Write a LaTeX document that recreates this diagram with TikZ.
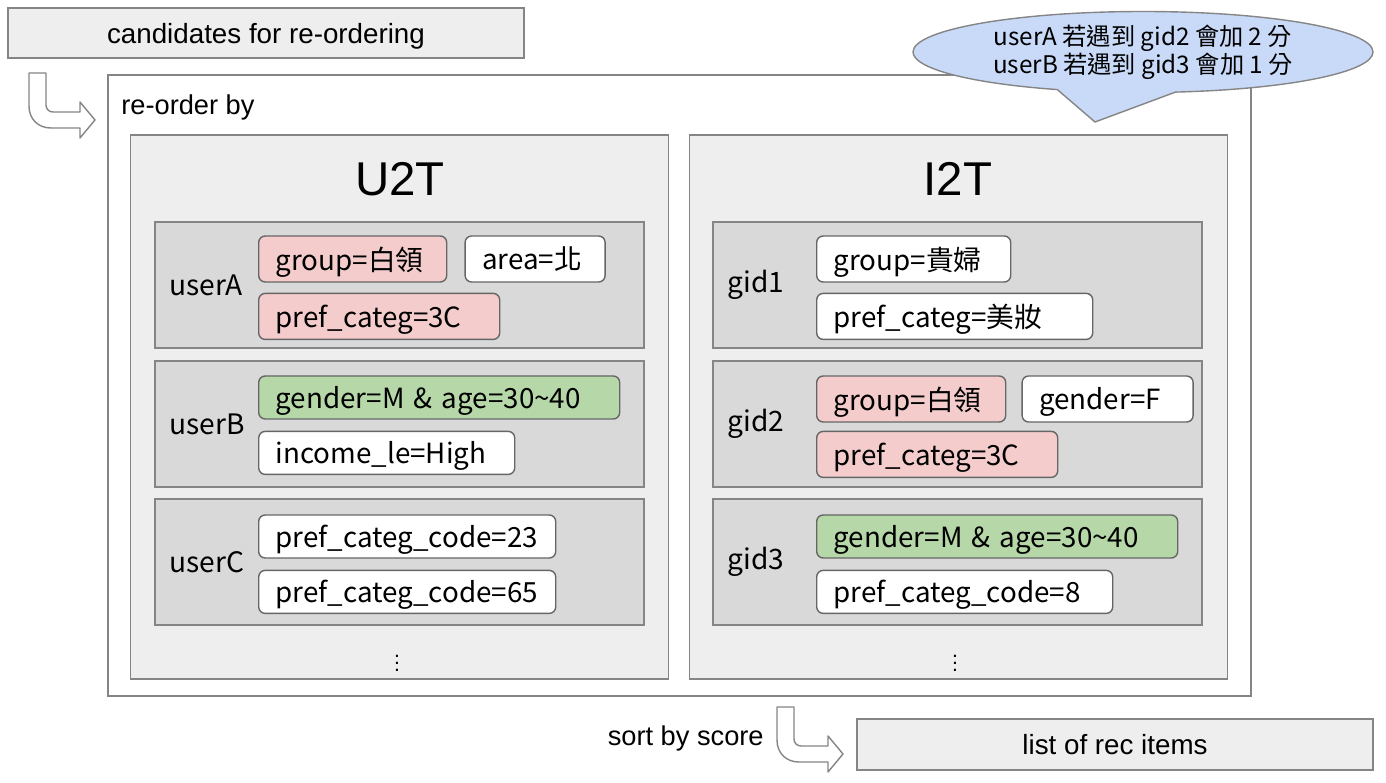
\documentclass[tikz,border=0pt]{standalone}
\usepackage{fontspec}
\setmainfont{Liberation Sans}
\newfontfamily\cjkfont{Noto Sans CJK TC}
\usetikzlibrary{positioning, shapes.callouts}

\definecolor{panelgray}{HTML}{EEEEEE}
\definecolor{rowgray}{HTML}{D9D9D9}
\definecolor{tagpink}{HTML}{F4CCCC}
\definecolor{taggreen}{HTML}{B6D7A8}
\definecolor{calloutblue}{HTML}{C9DAF8}
\definecolor{edgegray}{HTML}{858585}
\definecolor{tagedge}{HTML}{666666}

% one pixel of the reference
\newcommand{\pxl}{0.02cm}

\tikzset{
  framebox/.style={draw=edgegray, line width=0.8pt, inner sep=0},
  plainbox/.style={framebox, fill=panelgray, text depth=0pt, font=\fontsize{15.8}{19}\selectfont},
  panel/.style={framebox, fill=panelgray, minimum width=538*\pxl, minimum height=544*\pxl},
  rowbox/.style={framebox, fill=rowgray, minimum width=489*\pxl, minimum height=126*\pxl},
  rowlabel/.style={inner sep=0, font=\cjkfont\fontsize{16}{19}\selectfont},
  tag/.style={draw=tagedge, fill=white, rounded corners=0.13cm, line width=0.8pt,
    anchor=west, inner xsep=17*\pxl, inner ysep=0, minimum height=46*\pxl, text depth=0.05em,
    text width={(#1-34)*\pxl}, font=\cjkfont\fontsize{15.8}{19}\selectfont},
  turnarrow/.pic={
    \draw[draw=edgegray, fill=white, line width=0.8pt, line join=round]
      (0,0) -- (0,33) .. controls (0,46) and (9,55) .. (22,55) -- (51,55) -- (51,65)
      -- (66,47) -- (51,29) -- (51,39) -- (24,39) .. controls (20,39) and (17,36) .. (17,32)
      -- (17,0) -- cycle;
  }
}

\begin{document}
\begin{tikzpicture}[x=\pxl, y=-\pxl]
  \useasboundingbox (0,0) rectangle (1386,783);

  \node[plainbox, minimum width=516*\pxl, minimum height=50*\pxl] (cand) at (266,33) {candidates for re-ordering};
  \pic at (29,73) {turnarrow};

  \node[framebox, fill=white, minimum width=1143*\pxl, minimum height=621*\pxl] (reorder) at (679.5,385.5) {};
  \node[anchor=west, inner sep=0, font=\fontsize{15.5}{19}\selectfont] (reorderlabel) at (121,107) {re-order by};

  % the two panels
  \node[panel] (u2t) at (399.5,407) {};
  \node[panel] (i2t) at (958.5,407) {};
  \node[font=\fontsize{27}{30}\selectfont] (u2ttitle) at (400,179) {U2T};
  \node[font=\fontsize{27}{30}\selectfont] (i2ttitle) at (958,179) {I2T};

  % U2T rows
  \node[rowbox] (ua) at (399.5,285) {};
  \node[rowbox] (ub) at (399.5,424) {};
  \node[rowbox] (uc) at (399.5,562) {};
  \node[rowlabel, right=15*\pxl of ua.west] (ualabel) {userA};
  \node[rowlabel, right=15*\pxl of ub.west] (ublabel) {userB};
  \node[rowlabel, right=15*\pxl of uc.west] (uclabel) {userC};

  \node[tag=188, fill=tagpink] (ua1) at (258,259) {group=白領};
  \node[tag=140, right=17*\pxl of ua1] (ua2) {area=北};
  \node[tag=241, fill=tagpink, below=10*\pxl of ua1.south west, anchor=north west] (ua3) {pref\_categ=3C};

  \node[tag=361, fill=taggreen, minimum height=43*\pxl] (ub1) at (258,397.5) {gender=M \& age=30\textasciitilde40};
  \node[tag=256, minimum height=43*\pxl, below=11*\pxl of ub1.south west, anchor=north west] (ub2) {income\_le=High};

  \node[tag=297, minimum height=43*\pxl] (uc1) at (258,536.5) {pref\_categ\_code=23};
  \node[tag=297, minimum height=43*\pxl, below=11*\pxl of uc1.south west, anchor=north west] (uc2) {pref\_categ\_code=65};

  \node[font=\fontsize{12}{14}\selectfont] (udots) at (397,658) {$\vdots$};

  % I2T rows
  \node[rowbox] (ga) at (957.5,285) {};
  \node[rowbox] (gb) at (957.5,424) {};
  \node[rowbox] (gc) at (957.5,562) {};
  \node[rowlabel, right=15*\pxl of ga.west] (galabel) {gid1};
  \node[rowlabel, right=15*\pxl of gb.west] (gblabel) {gid2};
  \node[rowlabel, right=15*\pxl of gc.west] (gclabel) {gid3};

  \node[tag=194] (ga1) at (816,259) {group=貴婦};
  \node[tag=276, below=10*\pxl of ga1.south west, anchor=north west] (ga2) {pref\_categ=美妝};

  \node[tag=189, fill=tagpink] (gb1) at (816,399) {group=白領};
  \node[tag=171, right=15*\pxl of gb1] (gb2) {gender=F};
  \node[tag=241, fill=tagpink, below=8*\pxl of gb1.south west, anchor=north west] (gb3) {pref\_categ=3C};

  \node[tag=361, fill=taggreen, minimum height=43*\pxl] (gc1) at (816,536.5) {gender=M \& age=30\textasciitilde40};
  \node[tag=296, minimum height=43*\pxl, below=11*\pxl of gc1.south west, anchor=north west] (gc2) {pref\_categ\_code=8};

  \node[font=\fontsize{12}{14}\selectfont] (gdots) at (955,658) {$\vdots$};

  % note on the scores
  \node[ellipse callout, draw=edgegray, fill=calloutblue, line width=0.8pt, inner sep=0,
    minimum width=460*\pxl, minimum height=81*\pxl,
    callout absolute pointer={(1095,122)}, callout pointer arc=30,
    align=center, font=\cjkfont\fontsize{13.8}{13.6}\selectfont] (note) at (1143,52)
    {userA 若遇到 gid2 會加 2 分\\userB 若遇到 gid3 會加 1 分};

  % output
  \pic at (777,707) {turnarrow};
  \node[anchor=east, inner sep=0, font=\fontsize{15.5}{19}\selectfont] (sortlabel) at (764,738) {sort by score};
  \node[plainbox, minimum width=516*\pxl, minimum height=51*\pxl] (recitems) at (1115,744.5) {list of rec items};
\end{tikzpicture}
\end{document}
